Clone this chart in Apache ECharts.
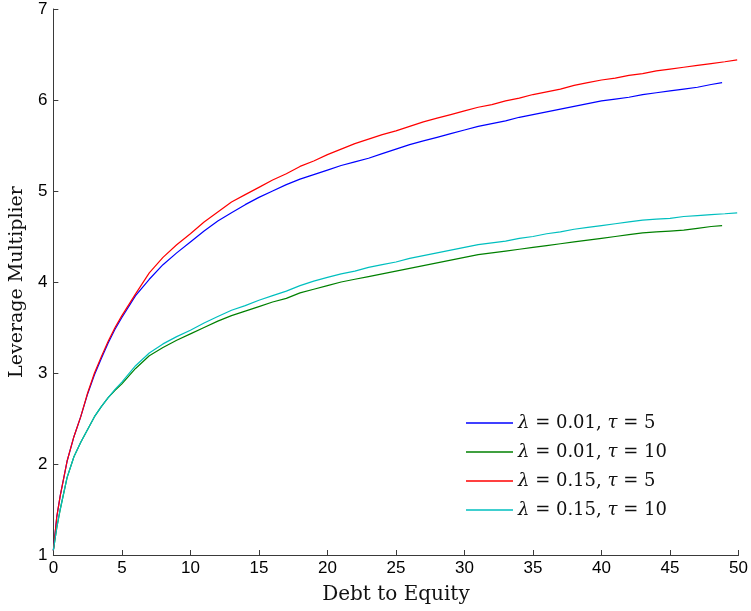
<!DOCTYPE html>
<html>
<head>
<meta charset="utf-8">
<script src="https://cdn.jsdelivr.net/npm/echarts@6/dist/echarts.min.js"></script>
<style>
html,body{margin:0;padding:0;background:#fff;}
#chart{width:751px;height:611px;}
</style>
</head>
<body>
<div id="chart"></div>
<script>
// x positions (Debt to Equity)
const xBase = [0,0.25,0.5,1,1.5,2,2.5,3,3.5,4,4.5,
  5,6,7,8,9,10,11,12,13,14,15,16,17,18,19,20,21,22,23,24,25,26,27,28,29,30,
  31,32,33,34,35,36,37,38,39,40,41,42,43,44,45,46,47,48];
const xTailShort = [48.8];
const xTailLong = [49, 49.9];

const seriesNames = ['λ = 0.01, τ = 5','λ = 0.01, τ = 10','λ = 0.15, τ = 5','λ = 0.15, τ = 10'];

const blueY = [1.05,1.42,1.65,2.03,2.30,2.52,2.77,2.98,3.16,3.33,3.48,
  3.61,3.85,4.03,4.19,4.32,4.44,4.56,4.67,4.76,4.85,4.93,5.00,5.07,5.13,5.18,5.23,5.28,5.32,5.36,5.41,5.46,5.51,5.55,5.59,5.63,5.67,
  5.71,5.74,5.77,5.81,5.84,5.87,5.90,5.93,5.96,5.99,6.01,6.03,6.06,6.08,6.10,6.12,6.14,6.17,
  6.19];
const greenY = [1.05,1.30,1.50,1.85,2.08,2.24,2.38,2.52,2.63,2.73,2.81,
  2.88,3.05,3.19,3.28,3.36,3.43,3.50,3.57,3.63,3.68,3.73,3.78,3.82,3.88,3.92,3.96,4.00,4.03,4.06,4.09,4.12,4.15,4.18,4.21,4.24,4.27,
  4.30,4.32,4.34,4.36,4.38,4.40,4.42,4.44,4.46,4.48,4.50,4.52,4.54,4.55,4.56,4.57,4.59,4.61,
  4.62];
const redY = [1.05,1.42,1.65,2.03,2.30,2.52,2.78,3.00,3.18,3.35,3.50,
  3.63,3.87,4.10,4.27,4.41,4.53,4.66,4.77,4.88,4.96,5.04,5.12,5.19,5.27,5.33,5.40,5.46,5.52,5.57,5.62,5.66,5.71,5.76,5.80,5.84,5.88,
  5.92,5.95,5.99,6.02,6.06,6.09,6.12,6.16,6.19,6.22,6.24,6.27,6.29,6.32,6.34,6.36,6.38,6.40,
  6.42,6.44];
const cyanY = [1.05,1.30,1.50,1.85,2.08,2.24,2.38,2.52,2.63,2.73,2.82,
  2.90,3.08,3.22,3.32,3.40,3.47,3.55,3.62,3.69,3.74,3.80,3.85,3.90,3.96,4.01,4.05,4.09,4.12,4.16,4.19,4.22,4.26,4.29,4.32,4.35,4.38,
  4.41,4.43,4.45,4.48,4.50,4.53,4.55,4.58,4.60,4.62,4.64,4.66,4.68,4.69,4.70,4.72,4.73,4.74,
  4.75,4.76];

const xTicks = [0,5,10,15,20,25,30,35,40,45,50];
const yTicks = [1,2,3,4,5,6,7];

function pairs(xs, ys){ return ys.map((y,i)=>[xs[i], y]); }
const xShort = xBase.concat(xTailShort);
const xLong = xBase.concat(xTailLong);

const colors = ['#0000ff','#008000','#ff0000','#00bfbf'];
const dataSets = [pairs(xShort, blueY), pairs(xShort, greenY), pairs(xLong, redY), pairs(xLong, cyanY)];

const chart = echarts.init(document.getElementById('chart'), null, {renderer:'canvas'});
const axisColor = '#3a3a3a';
chart.setOption({
  animation:false,
  backgroundColor:'#ffffff',
  grid:{left:53,right:11,top:9,bottom:56,containLabel:false},
  xAxis:{
    type:'value', min:xTicks[0], max:xTicks[xTicks.length-1], interval:5,
    name:'Debt to Equity', nameLocation:'middle', nameGap:30,
    nameTextStyle:{fontFamily:'DejaVu Serif', fontSize:20, color:'#111'},
    axisLine:{show:true, lineStyle:{color:axisColor, width:1}},
    axisTick:{show:true, inside:true, length:5, lineStyle:{color:axisColor}},
    axisLabel:{margin:5, fontFamily:'Liberation Sans', fontSize:17, color:'#000'},
    splitLine:{show:false}
  },
  yAxis:{
    type:'value', min:yTicks[0], max:yTicks[yTicks.length-1], interval:1,
    name:'Leverage Multiplier', nameLocation:'middle', nameGap:21,
    nameTextStyle:{fontFamily:'DejaVu Serif', fontSize:19, color:'#111'},
    axisLine:{show:true, lineStyle:{color:axisColor, width:1}},
    axisTick:{show:true, inside:true, length:5, lineStyle:{color:axisColor}},
    axisLabel:{margin:6, fontFamily:'Liberation Sans', fontSize:17, color:'#000'},
    splitLine:{show:false}
  },
  legend:{
    orient:'vertical', left:461, top:409, padding:5,
    icon:'rect', itemWidth:47, itemHeight:1.5, itemGap:11,
    data:seriesNames,
    formatter:function(n){ return n.replace('λ','{i|λ}').replace('τ','{i|τ}'); },
    textStyle:{fontFamily:'DejaVu Serif', fontSize:18, color:'#111',
      rich:{i:{fontFamily:'DejaVu Serif', fontStyle:'italic', fontSize:18, color:'#111'}}}
  },
  series: seriesNames.map((n,i)=>({
    name:n, type:'line', data:dataSets[i], symbol:'none', showSymbol:false,
    smooth:false, lineStyle:{color:colors[i], width:1.2}, itemStyle:{color:colors[i]},
    emphasis:{disabled:true}
  }))
});
</script>
</body>
</html>
